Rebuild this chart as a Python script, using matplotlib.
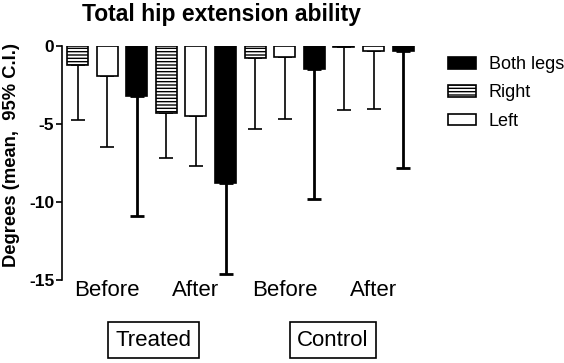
import matplotlib
matplotlib.use("Agg")
import matplotlib.pyplot as plt
import numpy as np

plt.rcParams['font.family'] = ['Liberation Sans', 'DejaVu Sans']
plt.rcParams['hatch.linewidth'] = 1.0

series = ["Right", "Left", "Both legs"]
groups = ["Treated Before", "Treated After", "Control Before", "Control After"]
tick_labels = ["Before", "After", "Before", "After"]
panel_labels = ["Treated", "Control"]

means = {
    "Right":     [-1.2, -4.3, -0.8, -0.05],
    "Left":      [-1.9, -4.5, -0.7, -0.35],
    "Both legs": [-3.2, -8.8, -1.5, -0.35],
}
ci_low = {
    "Right":     [-4.75, -7.2, -5.3, -4.1],
    "Left":      [-6.45, -7.7, -4.7, -4.05],
    "Both legs": [-10.9, -14.6, -9.8, -7.8],
}

styles = {
    "Right": dict(facecolor="white", hatch="-----", lw=1.2, elw=1.2),
    "Left": dict(facecolor="white", hatch=None, lw=1.2, elw=1.2),
    "Both legs": dict(facecolor="black", hatch=None, lw=1.2, elw=2.0),
}

fig = plt.figure(figsize=(5.64, 3.63), dpi=100)
ax = fig.add_axes([62/564, 1-280/363, (420-62)/564, (280-46)/363])

width = 0.71
handles = {}
for gi in range(len(groups)):
    for si, s in enumerate(series):
        x = gi*3 + si
        st = styles[s]
        m = means[s][gi]
        lo = ci_low[s][gi]
        ax.errorbar([x], [m], yerr=[[m - lo], [0]], fmt='none', ecolor='black',
                    elinewidth=st["elw"], capsize=5, capthick=st["elw"], zorder=1)
        b = ax.bar([x], [m], width=width, color=st["facecolor"], edgecolor='black',
                   linewidth=st["lw"], hatch=st["hatch"], zorder=2)
        handles[s] = b

ax.set_xlim(-0.524, 11.57)
ax.set_ylim(-15, 0)
ax.set_yticks([0, -5, -10, -15])
ax.set_yticklabels(["0", "-5", "-10", "-15"], fontweight='bold', fontsize=12.5)
ax.spines['top'].set_visible(False)
ax.spines['right'].set_visible(False)
ax.spines['bottom'].set_visible(False)
ax.spines['left'].set_linewidth(1.2)
ax.tick_params(axis='y', width=1.2, length=4, pad=1.5)
ax.set_xticks([1, 4, 7, 10])
ax.set_xticklabels(tick_labels, fontsize=16)
ax.tick_params(axis='x', length=0, pad=0)

ax.set_ylabel("Degrees (mean,  95% C.I.)", fontweight='bold', fontsize=13.2)
ax.yaxis.set_label_coords(-0.117, 0.534)
fig.text(222/564, 1-14/363, "Total hip extension ability", ha='center', va='center',
         fontweight='bold', fontsize=16.5)

leg = fig.legend([handles["Both legs"], handles["Right"], handles["Left"]],
                 ["Both legs", "Right", "Left"], loc='upper left',
                 bbox_to_anchor=(432/564, 1-40/363), frameon=False, fontsize=13,
                 handlelength=1.55, handleheight=0.6, labelspacing=0.62, handletextpad=0.7)

fig.text(153.5/564, 1-340/363, panel_labels[0], ha='center', va='center', fontsize=16,
         bbox=dict(boxstyle='square,pad=0.33', facecolor='white', edgecolor='black', lw=1.2))
fig.text(333/564, 1-340/363, panel_labels[1], ha='center', va='center', fontsize=16,
         bbox=dict(boxstyle='square,pad=0.33', facecolor='white', edgecolor='black', lw=1.2))

fig.savefig("out.png", dpi=100)
